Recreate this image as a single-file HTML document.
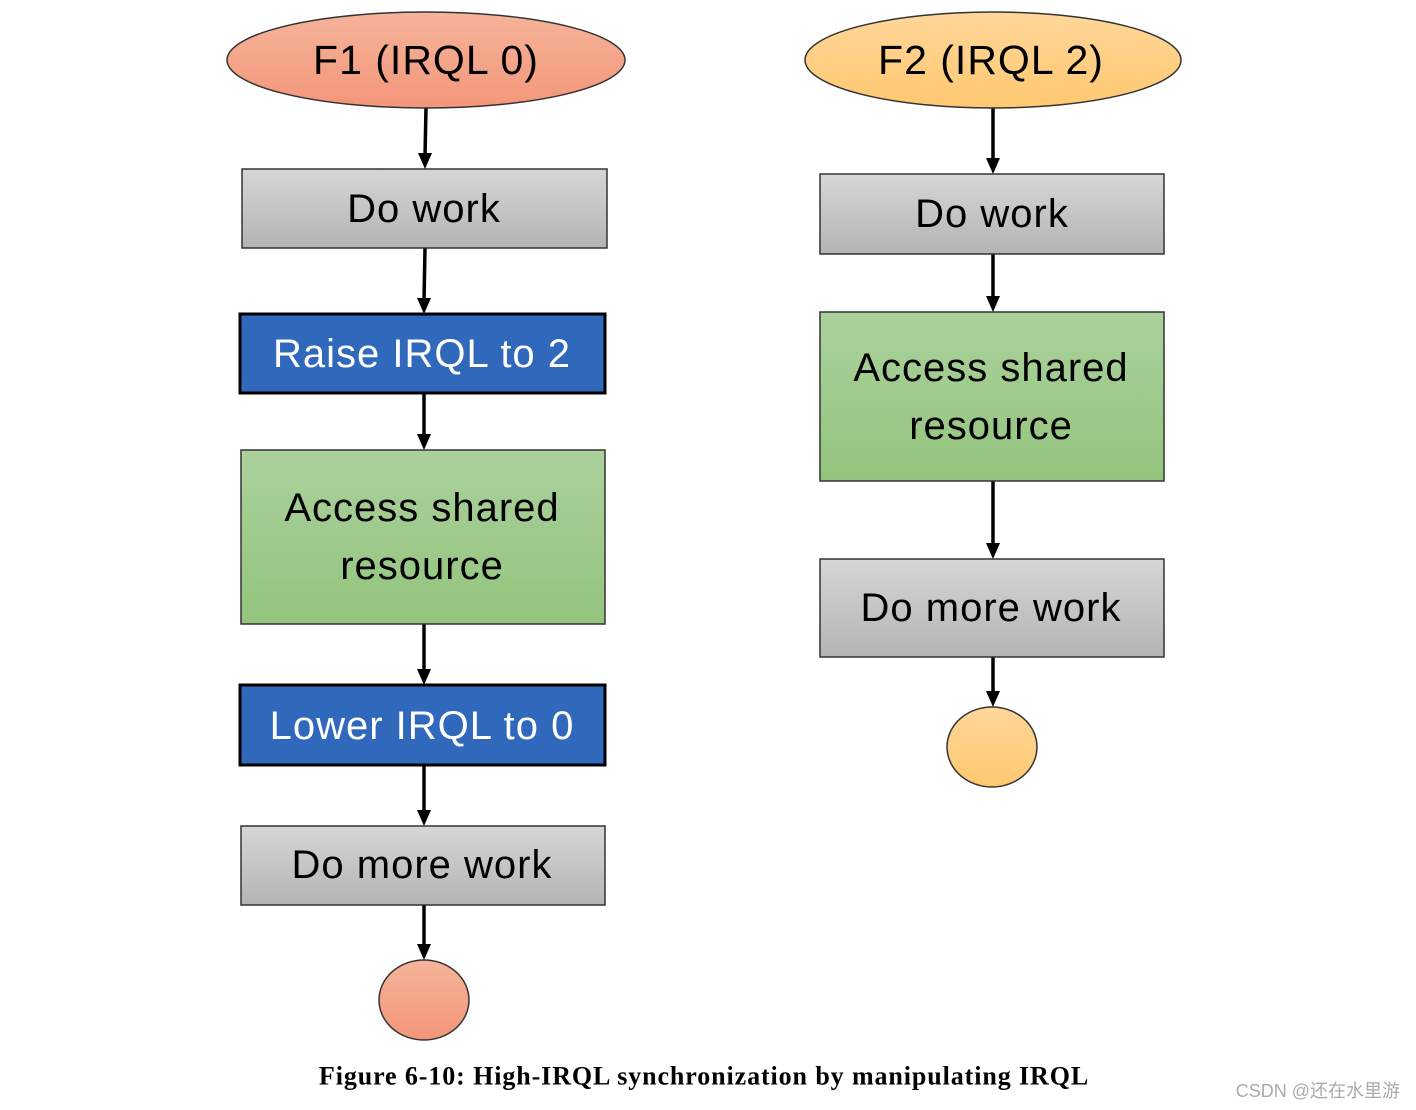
<!DOCTYPE html>
<html><head><meta charset="utf-8"><style>
html,body{margin:0;padding:0;background:#fff;}
svg{display:block;}
.t{font-family:"Liberation Sans",sans-serif;font-size:40px;letter-spacing:1px;text-anchor:middle;dominant-baseline:central;fill:#000;}
.w{fill:#fff;}
</style></head><body>
<svg width="1416" height="1110" viewBox="0 0 1416 1110" xmlns="http://www.w3.org/2000/svg">
<defs>
<linearGradient id="red" x1="0" y1="0" x2="0" y2="1"><stop offset="0" stop-color="#f5b49a"/><stop offset="1" stop-color="#f4967a"/></linearGradient>
<linearGradient id="yel" x1="0" y1="0" x2="0" y2="1"><stop offset="0" stop-color="#ffd79a"/><stop offset="1" stop-color="#ffc870"/></linearGradient>
<linearGradient id="gray" x1="0" y1="0" x2="0" y2="1"><stop offset="0" stop-color="#d6d6d6"/><stop offset="1" stop-color="#b4b4b4"/></linearGradient>
<linearGradient id="grn" x1="0" y1="0" x2="0" y2="1"><stop offset="0" stop-color="#abd19c"/><stop offset="1" stop-color="#93c47d"/></linearGradient>
</defs>
<g stroke="#000" stroke-width="3.5">
<line x1="426" y1="108" x2="425" y2="156"/>
<line x1="425" y1="248" x2="424" y2="301"/>
<line x1="424" y1="393" x2="424" y2="437"/>
<line x1="424" y1="624" x2="424" y2="672"/>
<line x1="424" y1="765" x2="424" y2="812"/>
<line x1="424" y1="905" x2="424" y2="947"/>
<line x1="993" y1="108" x2="993" y2="160"/>
<line x1="993" y1="254" x2="993" y2="299"/>
<line x1="993" y1="481" x2="993" y2="545"/>
<line x1="993" y1="657" x2="993" y2="694"/>
</g>
<g fill="#000">
<polygon points="418,153 432,153 425,169"/>
<polygon points="417,298 431,298 424,314"/>
<polygon points="417,434 431,434 424,450"/>
<polygon points="417,669 431,669 424,685"/>
<polygon points="417,810 431,810 424,826"/>
<polygon points="417,944 431,944 424,960"/>
<polygon points="986,158 1000,158 993,174"/>
<polygon points="986,296 1000,296 993,312"/>
<polygon points="986,543 1000,543 993,559"/>
<polygon points="986,691 1000,691 993,707"/>
</g>
<ellipse cx="426" cy="60" rx="199" ry="48" fill="url(#red)" stroke="#333" stroke-width="1.5"/>
<text class="t" x="426" y="60" style="font-size:41px">F1 (IRQL 0)</text>
<rect x="242" y="169" width="365" height="79" fill="url(#gray)" stroke="#333" stroke-width="1.5"/>
<text class="t" x="424" y="209">Do work</text>
<rect x="240" y="314" width="365" height="79" fill="#3068bc" stroke="#000" stroke-width="3"/>
<text class="t w" x="422" y="354">Raise IRQL to 2</text>
<rect x="241" y="450" width="364" height="174" fill="url(#grn)" stroke="#333" stroke-width="1.5"/>
<text class="t" x="422" y="508">Access shared</text>
<text class="t" x="422" y="566">resource</text>
<rect x="240" y="685" width="365" height="80" fill="#3068bc" stroke="#000" stroke-width="3"/>
<text class="t w" x="422" y="726">Lower IRQL to 0</text>
<rect x="241" y="826" width="364" height="79" fill="url(#gray)" stroke="#333" stroke-width="1.5"/>
<text class="t" x="422" y="865">Do more work</text>
<ellipse cx="424" cy="1000" rx="45" ry="40" fill="url(#red)" stroke="#333" stroke-width="1.5"/>

<ellipse cx="993" cy="60" rx="188" ry="48" fill="url(#yel)" stroke="#333" stroke-width="1.5"/>
<text class="t" x="991" y="60" style="font-size:41px">F2 (IRQL 2)</text>
<rect x="820" y="174" width="344" height="80" fill="url(#gray)" stroke="#333" stroke-width="1.5"/>
<text class="t" x="992" y="214">Do work</text>
<rect x="820" y="312" width="344" height="169" fill="url(#grn)" stroke="#333" stroke-width="1.5"/>
<text class="t" x="991" y="368">Access shared</text>
<text class="t" x="991" y="426">resource</text>
<rect x="820" y="559" width="344" height="98" fill="url(#gray)" stroke="#333" stroke-width="1.5"/>
<text class="t" x="991" y="608">Do more work</text>
<ellipse cx="992" cy="747" rx="45" ry="40" fill="url(#yel)" stroke="#333" stroke-width="1.5"/>

<text x="704" y="1076" style="font-family:'Liberation Serif',serif;font-weight:bold;font-size:26px;letter-spacing:0.9px;text-anchor:middle;dominant-baseline:central;">Figure 6-10: High-IRQL synchronization by manipulating IRQL</text>
<text x="1400" y="1091" style="font-family:'Liberation Sans','Noto Sans CJK SC',sans-serif;font-size:18px;text-anchor:end;dominant-baseline:central;fill:#aaa;">CSDN @还在水里游</text>
</svg>
</body></html>
